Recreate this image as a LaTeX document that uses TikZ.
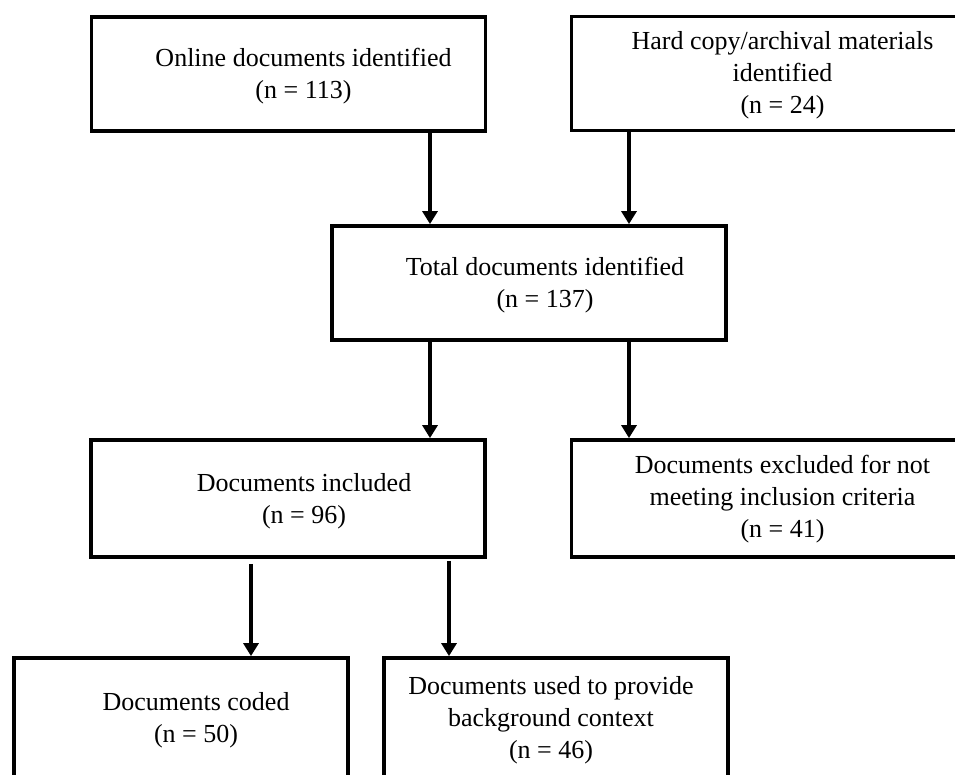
\documentclass[tikz,border=0pt]{standalone}
\usepackage{fontspec}
\setmainfont{Liberation Serif}
\usepackage{tikz}
\usetikzlibrary{arrows.meta,positioning}
\tikzset{
  docbox/.style={draw, line width=3.8pt, minimum height=114pt, minimum width=394pt, inner sep=0pt},
  doctext/.style={align=center, font=\fontsize{26}{32}\selectfont, inner sep=0pt},
  flowarrow/.style={-{Triangle[length=13pt,width=15pt]}, line width=3.6pt},
}

\begin{document}
\begin{tikzpicture}[x=1pt,y=1pt]
  \useasboundingbox (0,0) rectangle (955,-774);
  \clip (0,0) rectangle (955,-774);

  % boxes
  \node[docbox] (online) at (288.5,-74) {};
  \node[docbox] (hardcopy) at (768.5,-73.5) {};
  \node[docbox] (total) at (529,-283) {};
  \node[docbox, minimum height=117pt] (included) at (288,-498.5) {};
  \node[docbox, minimum height=117pt] (excluded) at (768.5,-498.5) {};
  \node[docbox, minimum width=334pt, minimum height=124pt] (coded) at (181,-720) {};
  \node[docbox, minimum width=344pt, minimum height=124pt] (background) at (556,-720) {};

  % texts
  \node[doctext] (onlinetext) at ([xshift=15pt,yshift=-2pt]online.center)
    {Online documents identified\\(n = 113)};
  \node[doctext] (hardcopytext) at ([xshift=14pt,yshift=-2pt]hardcopy.center)
    {Hard copy/archival materials\\identified\\(n = 24)};
  \node[doctext] (totaltext) at ([xshift=16pt,yshift=-2pt]total.center)
    {Total documents identified\\(n = 137)};
  \node[doctext] (includedtext) at ([xshift=16pt,yshift=-3pt]included.center)
    {Documents included\\(n = 96)};
  \node[doctext] (excludedtext) at ([xshift=14pt,yshift=-1pt]excluded.center)
    {Documents excluded for not\\meeting inclusion criteria\\(n = 41)};
  \node[doctext] (codedtext) at ([xshift=15pt]coded.center)
    {Documents coded\\(n = 50)};
  \node[doctext] (backgroundtext) at ([xshift=-5pt]background.center)
    {Documents used to provide\\background context\\(n = 46)};

  % arrow columns
  \coordinate (colA) at (430,0);
  \coordinate (colB) at (629,0);
  \coordinate (colC) at (251,0);
  \coordinate (colD) at (449,0);

  \draw[flowarrow] (online.south -| colA) -- (total.north -| colA);
  \draw[flowarrow] (hardcopy.south -| colB) -- (total.north -| colB);
  \draw[flowarrow] (total.south -| colA) -- (included.north -| colA);
  \draw[flowarrow] (total.south -| colB) -- (excluded.north -| colB);
  \draw[flowarrow, shorten <=5pt] (included.south -| colC) -- (coded.north -| colC);
  \draw[flowarrow, shorten <=2pt] (included.south -| colD) -- (background.north -| colD);
\end{tikzpicture}
\end{document}
